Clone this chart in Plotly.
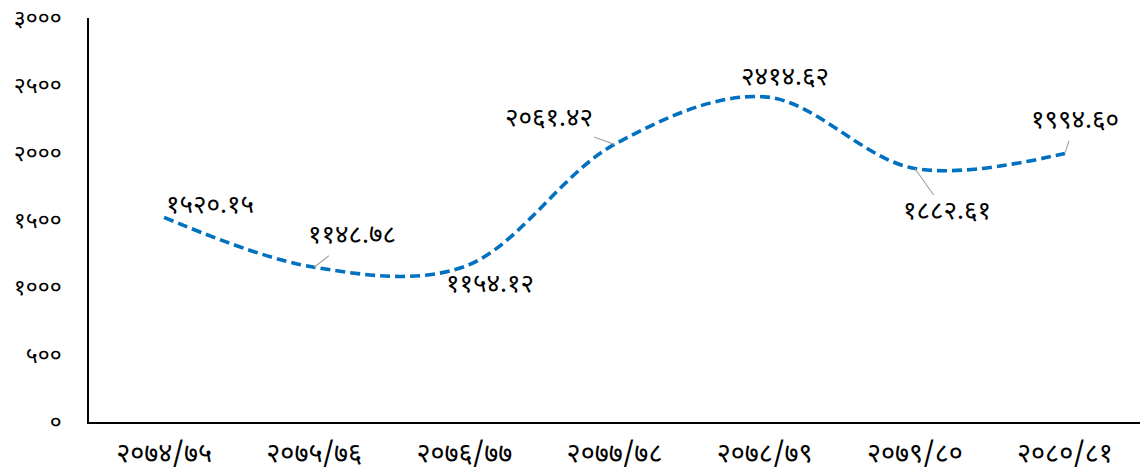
import plotly.graph_objects as go

categories = ["२०७४/७५", "२०७५/७६", "२०७६/७७", "२०७७/७८", "२०७८/७९", "२०७९/८०", "२०८०/८१"]
values = [1520.15, 1148.78, 1154.12, 2061.42, 2414.62, 1882.61, 1994.60]
value_labels = ["१५२०.१५", "११४८.७८", "११५४.१२", "२०६१.४२", "२४१४.६२", "१८८२.६१", "१९९४.६०"]
y_tick_vals = [0, 500, 1000, 1500, 2000, 2500, 3000]
y_tick_text = ["०", "५००", "१०००", "१५००", "२०००", "२५००", "३०००"]

# label offsets (px) and whether a leader line is drawn
offsets = [(46, -10, False), (38, -30, True), (26, 19, False), (-66, -24, True),
           (20, -18, False), (32, 45, True), (10, -31, True)]

FONT = "Noto Sans Devanagari, Noto Sans, DejaVu Sans, sans-serif"

fig = go.Figure()
fig.add_trace(go.Scatter(
    x=categories, y=values, mode="lines",
    line=dict(color="#0070C0", width=3.6, dash="10px,5px", shape="spline", smoothing=1.0),
    hoverinfo="skip", showlegend=False,
))

for cat, v, lab, (dx, dy, leader) in zip(categories, values, value_labels, offsets):
    if leader:
        fig.add_annotation(x=cat, y=v, text=lab, showarrow=True, arrowhead=0,
                           arrowwidth=1.2, arrowcolor="#A6A6A6", ax=dx, ay=dy,
                           font=dict(family=FONT, size=26, color="#000000"))
    else:
        fig.add_annotation(x=cat, y=v, text=lab, showarrow=False,
                           xshift=dx, yshift=-dy,
                           font=dict(family=FONT, size=26, color="#000000"))

fig.update_layout(
    width=1140, height=472,
    margin=dict(l=89, r=0, t=18, b=50),
    paper_bgcolor="white", plot_bgcolor="white",
    font=dict(family=FONT, size=22, color="#000000"),
    xaxis=dict(type="category", range=[-0.5, 6.5], showgrid=False, zeroline=False,
               showline=True, linecolor="#000000", linewidth=1.5, ticks="",
               tickfont=dict(size=27), ticklabelstandoff=6, automargin=False,
               ticklabeloverflow="allow"),
    yaxis=dict(range=[0, 3000], tickvals=y_tick_vals, ticktext=y_tick_text,
               showgrid=False, zeroline=False, showline=True, linecolor="#000000",
               linewidth=1.5, ticks="", tickfont=dict(size=23), ticklabelstandoff=21,
               automargin=False, ticklabeloverflow="allow"),
)

fig.write_html("out.html", config={"displayModeBar": False},
               post_script="document.body.style.margin='0';")
